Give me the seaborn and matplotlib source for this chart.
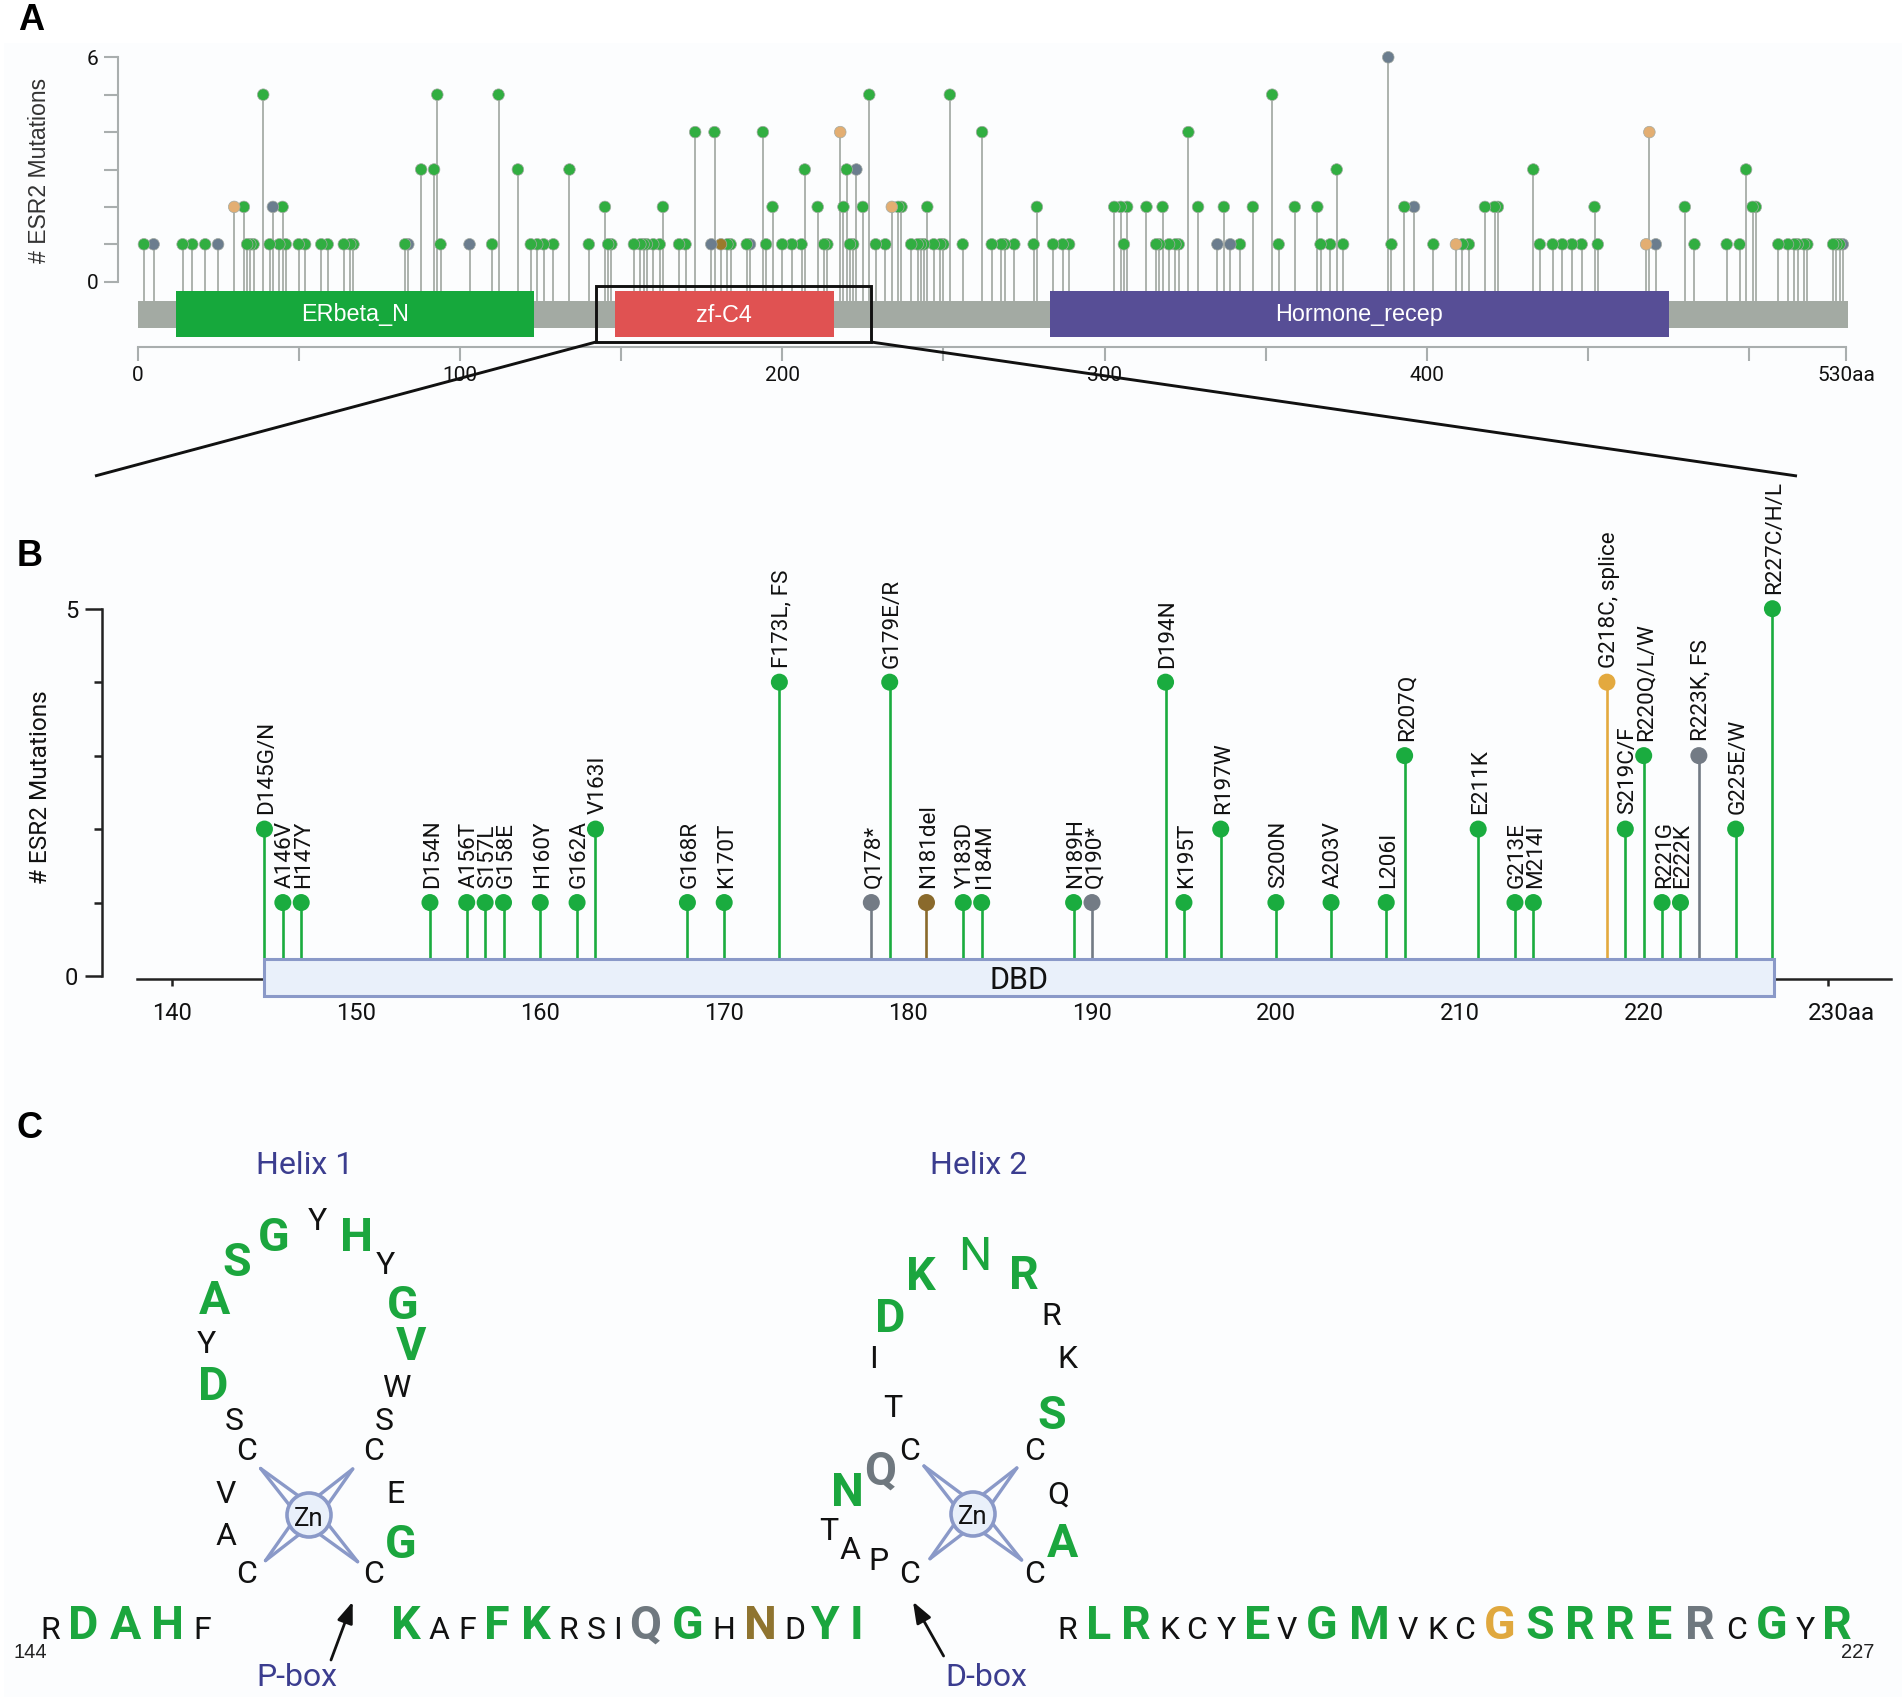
import numpy as np
import pandas as pd
import matplotlib
matplotlib.use("Agg")
import matplotlib.pyplot as plt
from matplotlib.patches import Rectangle, Circle
import seaborn as sns

# ---------- data: panel A ----------
pos_count1 = [2,5,14,17,21,25,34,35,36,41,44,46,50,52,57,59,64,66,67,83,84,94,103,110,122,124,126,129,140,146,147,
              154,156,157,158,160,162,168,170,178,181,183,184,189,190,195,200,203,206,213,214,221,222,229,232,240,
              242,243,244,247,249,250,256,265,268,269,272,278,284,287,289,306,316,317,320,322,323,335,339,342,354,
              367,370,374,389,402,409,411,413,435,439,442,445,448,453,468,471,483,493,497,509,512,514,515,517,518,
              526,527,528,529]
pos_count2 = [30,33,42,45,145,163,197,211,219,225,234,236,237,245,279,303,305,307,313,318,329,337,346,359,366,393,
              396,418,421,422,452,480,501,502]
pos_count3 = [88,92,118,134,207,220,223,372,433,499]
pos_count4 = [173,179,194,218,262,326,469]
pos_count5 = [39,93,112,227,252,352]
pos_count6 = [388]
pos_truncating = [5,25,42,84,103,178,190,223,335,339,388,396,471,529]
pos_splice = [30,218,234,409,468,469]
pos_inframe = [181]

domain_names = ["ERbeta_N", "zf-C4", "Hormone_recep"]
domain_starts = [12, 148, 283]
domain_ends = [123, 216, 475]
domain_colors = ["#16a83c", "#e05252", "#574e96"]
protein_length = 530
a_ticks = [0,50,100,150,200,250,300,350,400,450,500,530]
a_ticklabels = ["0","","100","","200","","300","","400","","","530aa"]

# ---------- data: panel B ----------
b_positions = [145,146,147,154,156,157,158,160,162,163,168,170,173,178,179,181,183,184,189,190,194,195,197,200,203,
               206,207,211,213,214,218,219,220,221,222,223,225,227]
b_counts = [2,1,1,1,1,1,1,1,1,2,1,1,4,1,4,1,1,1,1,1,4,1,2,1,1,1,3,2,1,1,4,2,3,1,1,3,2,5]
b_labels = ["D145G/N","A146V","H147Y","D154N","A156T","S157L","G158E","H160Y","G162A","V163I","G168R","K170T",
            "F173L, FS","Q178*","G179E/R","N181del","Y183D","I184M","N189H","Q190*","D194N","K195T","R197W","S200N",
            "A203V","L206I","R207Q","E211K","G213E","M214I","G218C, splice","S219C/F","R220Q/L/W","R221G","E222K",
            "R223K, FS","G225E/W","R227C/H/L"]
b_ticks = [140,150,160,170,180,190,200,210,220,230]
b_ticklabels = ["140","150","160","170","180","190","200","210","220",""]
b_last_ticklabel = "230aa"

# ---------- data: panel C ----------
seq_left = list("RDAHF") + list("KAFFKRSIQGHNDYI")
seq_right = list("RLRKCYEVGMVKCGSRRERCGYR")
helix1 = list("YGHSYAGYVDWSSCCVEAGCC")
helix2 = list("KDITCQNTAPCNRRKSCQAC")

# ---------- style ----------
W, H = 1902, 1697
GREEN_A, GREY_A, ORANGE_A, BROWN_A = "#31ae41", "#6b7d8e", "#e3ae72", "#9a7a2c"
GREEN_B, GREY_B, ORANGE_B, BROWN_B = "#1aac3f", "#737b85", "#e3a93f", "#8a6a2c"
GREEN_C, GREY_C, ORANGE_C, BROWN_C = "#1ba63e", "#6f787f", "#e0a83e", "#8f7430"
AXGREY = "#a9aeae"
DARK = "#222222"
NAVY = "#3b3d8f"
BLUE_EDGE = "#8a99c8"
BLUE_FILL = "#e9f0fa"

sns.set_theme(style="white")
plt.rcParams["font.family"] = ["Roboto", "DejaVu Sans"]
plt.rcParams["axes.facecolor"] = "none"

fig = plt.figure(figsize=(W/100, H/100), dpi=100, facecolor="white")

def px_axes(l, t, r, b, z=1):
    return fig.add_axes([l/W, 1-b/H, (r-l)/W, (b-t)/H], zorder=z)

def classify(p, trunc, spl, inf):
    if p in trunc:
        return "trunc"
    if p in spl:
        return "splice"
    if p in inf:
        return "inframe"
    return "missense"

# background
bg = px_axes(0, 0, W, H, z=0)
bg.set_xlim(0, W); bg.set_ylim(H, 0); bg.axis("off")
bg.add_patch(Rectangle((4, 43), W-4, H-43, fc="#fcfdfe", ec="none"))

# ---------- Panel A ----------
axA = px_axes(137.5, 57.3, 1846, 281.7, z=2)
axA.set_xlim(0, protein_length); axA.set_ylim(0, 6)
py = 37.4
all_pos = [(p, c) for c, lst in enumerate([pos_count1,pos_count2,pos_count3,pos_count4,pos_count5,pos_count6], 1) for p in lst]
dfA = pd.DataFrame(all_pos, columns=["pos", "count"]).sort_values("pos", ascending=False)
dfA["kind"] = [classify(p, pos_truncating, pos_splice, pos_inframe) for p in dfA["pos"]]
stem_base = -(301-281.7)/py
axA.vlines(dfA["pos"], stem_base, dfA["count"], color="#a3aaa3", lw=1.25, zorder=1, clip_on=False)
axA.add_patch(Rectangle((0, -(328-281.7)/py), protein_length+0.6, (328-301)/py, fc="#a3aaa3", ec="none", zorder=1.5, clip_on=False))
for nm, s, e, col in zip(domain_names, domain_starts, domain_ends, domain_colors):
    axA.add_patch(Rectangle((s, -(337-281.7)/py), e-s, (337-291)/py, fc=col, ec="none", zorder=1.7, clip_on=False))
    axA.text((s+e)/2, -(315-281.7)/py, nm, color="white", ha="center", va="center",
             family="Liberation Sans", fontsize=16.8, zorder=1.8)
sns.scatterplot(data=dfA, x="pos", y="count", hue="kind", ax=axA, legend=False, s=70,
                palette={"missense": GREEN_A, "trunc": GREY_A, "splice": ORANGE_A, "inframe": BROWN_A},
                edgecolor="#a3aaa3", linewidth=0.5, clip_on=False, zorder=3)
axA.set_yticks(range(7)); axA.set_yticklabels(["0","","","","","","6"])
axA.set_xticks(a_ticks); axA.set_xticklabels(a_ticklabels)
axA.tick_params(axis="x", direction="out", length=10, width=1.5, color=AXGREY, labelsize=15, pad=3.5, bottom=True, labelcolor="#111111")
axA.tick_params(axis="y", direction="out", length=10, width=1.5, color=AXGREY, labelsize=15, pad=4.5, left=True, labelcolor="#111111")
for t in axA.get_xticklabels() + axA.get_yticklabels():
    t.set_family("Liberation Sans")
for s in ["top", "right"]:
    axA.spines[s].set_visible(False)
axA.spines["left"].set_position(("outward", 13.8)); axA.spines["left"].set_color(AXGREY); axA.spines["left"].set_linewidth(1.5)
axA.spines["bottom"].set_position(("outward", 47)); axA.spines["bottom"].set_color(AXGREY); axA.spines["bottom"].set_linewidth(1.5)
axA.set_xlabel(""); axA.set_ylabel("")

# ---------- Panel B ----------
xpb = 18.39
xl = 140 + (137-172.5)/xpb
xr = 140 + (1891-172.5)/xpb
y0, y5 = 976.0, 608.7
axB = px_axes(137, y5, 1891, y0, z=2)
axB.set_xlim(xl, xr); axB.set_ylim(0, 5)
pyb = (y0-y5)/5
dfB = pd.DataFrame({"pos": b_positions, "count": b_counts, "label": b_labels})
dfB["kind"] = [classify(p, [178,190,223], [218], [181]) for p in dfB["pos"]]
palB = {"missense": GREEN_B, "trunc": GREY_B, "splice": ORANGE_B, "inframe": BROWN_B}
base = (y0-959)/pyb
axB.vlines(dfB["pos"], base, dfB["count"], colors=[palB[k] for k in dfB["kind"]], lw=1.9, zorder=3, clip_on=False)
axB.add_patch(Rectangle((145, (y0-996.4)/pyb), 82.1, (996.4-959)/pyb, fc=BLUE_FILL, ec=BLUE_EDGE, lw=2.2, zorder=4, clip_on=False))
axB.text((145+227.1)/2, (y0-977.7)/pyb, "DBD", ha="center", va="center_baseline", fontsize=22, color="#111111", zorder=5)
sns.scatterplot(data=dfB, x="pos", y="count", hue="kind", ax=axB, legend=False, s=150, palette=palB,
                edgecolor="none", clip_on=False, zorder=5)
for p, c, lab in zip(dfB["pos"], dfB["count"], dfB["label"]):
    axB.annotate(lab, (p, c), xytext=(1.8, 10.5), textcoords="offset points", rotation=90,
                 ha="center", va="bottom", fontsize=16.2, color="#111111", zorder=6, annotation_clip=False)
axB.set_axisbelow(True)
axB.set_xticks(b_ticks); axB.set_xticklabels(b_ticklabels)
axB.tick_params(axis="x", direction="out", length=5.3, width=1.8, color=DARK, labelsize=17, pad=11.5, bottom=True, labelcolor="#111111")
axB.set_yticks([0,5]); axB.set_yticklabels(["0","5"])
axB.set_yticks([1,2,3,4], minor=True)
axB.tick_params(axis="y", which="major", direction="out", length=12.2, width=1.8, color=DARK, labelsize=17, pad=4.5, left=True, labelcolor="#111111")
axB.tick_params(axis="y", which="minor", direction="out", length=5.8, width=1.8, color=DARK, left=True)
for s in ["top", "right"]:
    axB.spines[s].set_visible(False)
axB.spines["left"].set_position(("outward", 25.5)); axB.spines["left"].set_color(DARK); axB.spines["left"].set_linewidth(1.8)
axB.spines["bottom"].set_position(("outward", 2)); axB.spines["bottom"].set_color(DARK); axB.spines["bottom"].set_linewidth(1.8)
axB.set_xlabel(""); axB.set_ylabel("")

# ---------- overlay in pixel coordinates ----------
ov = px_axes(0, 0, W, H, z=5)
ov.set_xlim(0, W); ov.set_ylim(H, 0); ov.axis("off")
ov.text(1841.6, 1013, b_last_ticklabel, fontsize=17.5, ha="center", va="center", color="#111111")

# panel letters
for letter, x, y in [("A", 31, 20), ("B", 30, 556), ("C", 30, 1129)]:
    ov.text(x, y, letter, fontsize=26, fontweight="bold", family="Liberation Sans", ha="center", va="center", color="black")

# y labels
ov.text(40, 170, "# ESR2 Mutations", rotation=90, ha="center", va="center", family="Liberation Sans", fontsize=16.6, color="#333333")
ov.text(41, 787.6, "# ESR2 Mutations", rotation=90, ha="center", va="center", fontsize=17.6, color="#111111")

# zoom box and connectors
ov.add_patch(Rectangle((596, 286), 275, 56, fill=False, ec="#111111", lw=2.1))
ov.plot([596, 95], [342, 476], color="#111111", lw=2.1, solid_capstyle="butt")
ov.plot([871, 1797], [342, 476], color="#111111", lw=2.1, solid_capstyle="butt")

# panel C residues
BIG, SMALL = 33.5, 23

def residue(x, y_mid, ch, col="#111111", big=False, light=False):
    fs = BIG if big else SMALL
    baseline = y_mid + 0.355*fs*100/72
    ov.text(x, baseline, ch, fontsize=fs, color=col, ha="center", va="baseline",
            fontweight=("normal" if light else "bold") if big else "normal")

row_mid = 1622.0
small_mid = 1627.5
left_x = [50,83,125,168,202,406,439,467,497,536,568,596,617,645,688,724,760,795,825,856]
left_style = "sbbbs" + "bssbbsssqbsnsbb"
right_x = [1067,1099,1136,1169,1197,1226,1257,1287,1322,1369,1408,1437,1465,1499.5,1540,1580,1620,1659,1700,1737,1771.5,1805,1837]
right_style = "sbbsssbsbbsssobbbbqsbsb"

def row(seq, xs, styles):
    for ch, x, st in zip(seq, xs, styles):
        if st == "s":
            residue(x, small_mid, ch)
        elif st == "b":
            residue(x, row_mid, ch, GREEN_C, True)
        elif st == "q":
            residue(x, row_mid, ch, GREY_C, True)
        elif st == "n":
            residue(x, row_mid, ch, BROWN_C, True)
        elif st == "o":
            residue(x, row_mid, ch, ORANGE_C, True)

row(seq_left, left_x, left_style)
row(seq_right, right_x, right_style)
ov.text(30, 1652, "144", fontsize=14.5, ha="center", va="center", family="Liberation Sans", color="#222222")
ov.text(1858, 1652, "227", fontsize=14.5, ha="center", va="center", family="Liberation Sans", color="#222222")

def zpos(zx, zy, x0=0.0, fx=1.65):
    return x0 + zx/fx, 1100 + zy/2.627

h1_z = [(523,312,0),(452,352,1),(589,352,1),(391,420,1),(636,428,0),(353,520,1),(664,532,1),(340,634,0),(678,640,1),
        (352,745,1),(653,750,0),(387,837,0),(634,837,0),(407,917,0),(616,917,0),(373,1028,0),(652,1028,0),(373,1140,0),
        (661,1160,1),(407,1240,0),(616,1240,0)]
for ch, (zx, zy, b) in zip(helix1, h1_z):
    x, y = zpos(zx, zy)
    residue(x, y, ch, GREEN_C if b else "#111111", bool(b))

h2_z = [(1520,457,1,0),(1469,565,1,0),(1441,673,0,0),(1473,802,0,0),(1500,917,0,0),(1452,968,2,0),(1399,1022,1,0),
        (1368,1125,0,0),(1403,1175,0,0),(1450,1205,0,0),(1500,1240,0,0),
        (40,402,3,1),(122,453,1,1),(166,560,0,1),(193,675,0,1),(168,820,1,1),(139,917,0,1),(178,1030,0,1),(185,1158,1,1),(139,1240,0,1)]
for ch, (zx, zy, b, side) in zip(helix2, h2_z):
    x, y = zpos(zx, zy, 950.0, 1.647) if side else zpos(zx, zy)
    if b == 0:
        residue(x, y, ch)
    elif b == 1:
        residue(x, y, ch, GREEN_C, True)
    elif b == 2:
        residue(x, y, ch, GREY_C, True)
    else:
        residue(x, y, ch, GREEN_C, True, light=True)

# zinc fingers
def zinc(cx, cy, tips):
    for tx, ty in tips:
        d = np.array([cx-tx, cy-ty], float)
        d /= np.hypot(*d)
        n = np.array([-d[1], d[0]])
        for sgn in (-1, 1):
            bx, by = np.array([cx, cy]) - d*10 + n*sgn*8
            ov.plot([tx, bx], [ty, by], color=BLUE_EDGE, lw=2.4, solid_capstyle="round", zorder=2)
    ov.add_patch(Circle((cx, cy), 22, fc=BLUE_FILL, ec=BLUE_EDGE, lw=2.6, zorder=3))
    ov.text(cx, cy+1, "Zn", fontsize=18.5, ha="center", va="center_baseline", color="#111111", zorder=4)

zinc(309, 1515, [(260.6,1468.5),(352.7,1469),(265.5,1560.6),(357.6,1561.7)])
zinc(973, 1514, [(924,1466),(1016.8,1468),(930,1558.7),(1021.6,1560)])

# captions
for txt, x, y in [("Helix 1", 305, 1165), ("Helix 2", 979, 1165), ("P-box", 297, 1677), ("D-box", 986, 1677)]:
    ov.text(x, y, txt, fontsize=23, color=NAVY, ha="center", va="center")

for tail, head in [((331, 1660), (352.7, 1601.7)), ((943.6, 1656), (913, 1601.7))]:
    ov.annotate("", xy=head, xytext=tail,
                arrowprops=dict(arrowstyle="-|>,head_length=0.8,head_width=0.3", color="#111111", lw=2, shrinkA=0, shrinkB=0, mutation_scale=16))

fig.savefig("out.png", dpi=100, facecolor="white")
